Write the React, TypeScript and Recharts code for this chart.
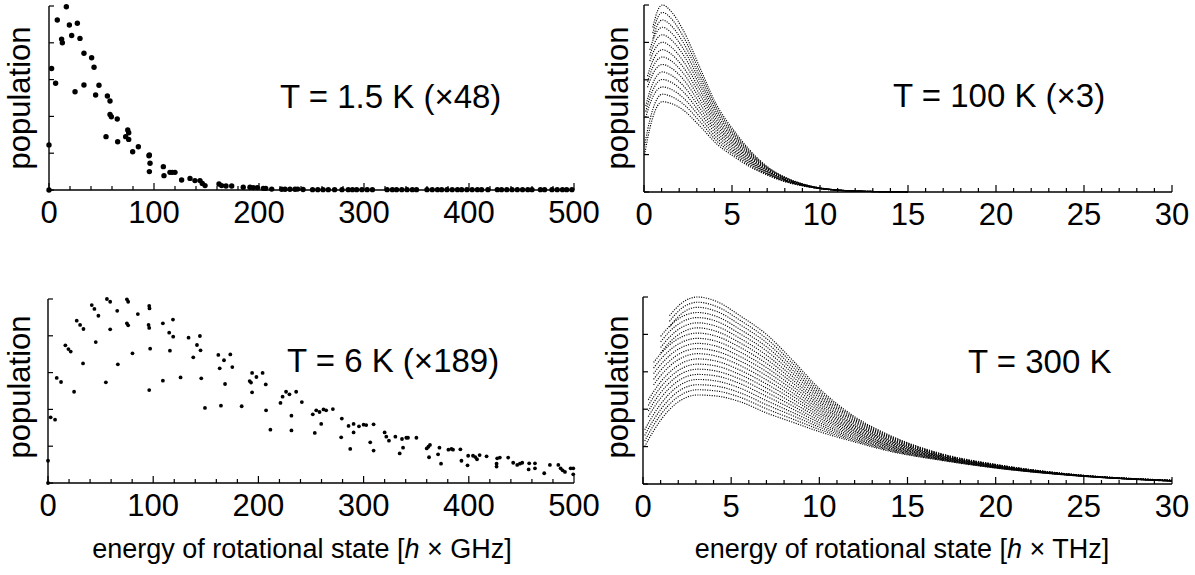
import React from 'react';
import { ScatterChart, Scatter, LineChart, Line, XAxis, YAxis } from 'recharts';

const FONT = "'Liberation Sans', Arial, sans-serif";

// ---- axis ticks ----
const ghzTicks = [0, 20, 40, 60, 80, 100, 120, 140, 160, 180, 200, 220, 240, 260, 280, 300, 320, 340, 360, 380, 400, 420, 440, 460, 480, 500];
const ghzLabels = [0, 100, 200, 300, 400, 500];
const thzTicks = [0, 1, 2, 3, 4, 5, 6, 7, 8, 9, 10, 11, 12, 13, 14, 15, 16, 17, 18, 19, 20, 21, 22, 23, 24, 25, 26, 27, 28, 29, 30];
const thzLabels = [0, 5, 10, 15, 20, 25, 30];
const popTicks = [0, 0.2, 0.4, 0.6, 0.8, 1];

// ---- T = 1.5 K : [energy GHz, population] ----
const pop1p5K: [number, number][] = [
  [0, 0.245], [0, 0], [2.5, 0.66], [6.3, 0.58], [7.9, 0.924], [12, 0.82], [12.7, 0.8], [16.5, 0.996], [19.4, 0.897],
  [21.6, 0.84], [24.8, 0.534], [27, 0.906], [29.5, 0.824], [33.3, 0.743], [33.3, 0.571], [40.6, 0.719], [42.9, 0.667],
  [44.4, 0.516], [47.6, 0.569], [54.3, 0.29], [55.6, 0.511], [58.1, 0.484], [58.1, 0.411], [59.4, 0.398], [65, 0.386],
  [65.4, 0.262], [75, 0.326], [75.9, 0.311], [73, 0.29], [75.9, 0.275], [79.7, 0.208], [85.1, 0.235], [95.2, 0.186],
  [95.6, 0.19], [96.2, 0.145], [95.6, 0.1], [108.9, 0.127], [109.5, 0.078], [115.2, 0.096], [117.4, 0.096], [120, 0.096],
  [126.3, 0.054], [134.3, 0.063], [139, 0.051], [143.8, 0.051], [146, 0.036], [148.6, 0.024], [161.9, 0.033],
  [164.4, 0.024], [168.6, 0.022], [174, 0.022], [185, 0.015], [191.4, 0.015], [194.6, 0.013], [198.4, 0.013],
  [204.1, 0.009], [206.4, 0.009], [212.1, 0.005], [221.6, 0.004], [224.8, 0.004], [229.5, 0.004], [234.3, 0.004],
  [236.8, 0.005], [242, 0.003], [251, 0.002], [256, 0.002], [261, 0.002], [266, 0.002], [272, 0.002], [279, 0.002],
  [285, 0.002], [289, 0.002], [293, 0.002], [298, 0.002], [303, 0.002], [308, 0.002], [322, 0.002], [327, 0.002],
  [331, 0.002], [336, 0.002], [341, 0.002], [346, 0.002], [350, 0.002], [360, 0.002], [365, 0.002], [370, 0.002],
  [374, 0.002], [379, 0.002], [384, 0.002], [389, 0.002], [393, 0.002], [398, 0.002], [403, 0.002], [408, 0.002],
  [412, 0.002], [418, 0.002], [427, 0.002], [431, 0.002], [436, 0.002], [441, 0.002], [446, 0.002], [451, 0.002],
  [456, 0.002], [460, 0.002], [468, 0.002], [472, 0.002], [479, 0.002], [484, 0.002], [489, 0.002], [493, 0.002],
  [498, 0.002],
];

// ---- T = 6 K : [energy GHz, population] ----
const pop6K: [number, number][] = [
  [0, 0.121], [0, 0], [2.5, 0.357], [6.7, 0.344], [8.3, 0.571], [12.4, 0.549], [16.5, 0.748], [19.4, 0.728], [21.6, 0.714],
  [24.8, 0.496], [27.3, 0.882], [30.5, 0.859], [33.7, 0.837], [33.3, 0.65], [41.6, 0.967], [44.1, 0.946], [47.9, 0.909],
  [45.4, 0.766], [55, 0.547], [56, 1.0], [59.1, 0.985], [59.1, 0.835], [65.8, 0.936], [66.4, 0.645], [75, 0.998],
  [76.2, 0.985], [75, 0.868], [76.2, 0.857], [80.3, 0.705], [85.4, 0.918], [96.2, 0.962], [96.5, 0.949], [95.6, 0.859],
  [96.2, 0.843], [97.1, 0.73], [96.2, 0.505], [109.2, 0.868], [109.2, 0.556], [115.2, 0.817], [115.9, 0.719],
  [118.8, 0.888], [119, 0.795], [126, 0.574], [133.6, 0.79], [138.1, 0.683], [141.6, 0.75], [144.4, 0.799], [145, 0.721],
  [145.7, 0.569], [149.2, 0.408], [161.9, 0.696], [163.2, 0.623], [164.4, 0.42], [167.3, 0.667], [168.3, 0.538],
  [173.3, 0.699], [175.2, 0.63], [184.1, 0.417], [191.7, 0.554], [193, 0.546], [194, 0.598], [194, 0.493], [198.1, 0.576],
  [204, 0.598], [207, 0.536], [207.3, 0.395], [211.4, 0.29], [221, 0.435], [223, 0.469], [226.3, 0.496], [229.5, 0.482],
  [231.4, 0.366], [231.4, 0.286], [235.9, 0.496], [241.3, 0.44], [251.7, 0.373], [255, 0.395], [258.1, 0.386],
  [261.9, 0.4], [264.4, 0.395], [270.8, 0.402], [253.6, 0.272], [259.7, 0.321], [279.3, 0.35], [278.7, 0.248],
  [285.7, 0.31], [287.3, 0.185], [290.5, 0.321], [290.5, 0.275], [295.6, 0.308], [300, 0.317], [302.5, 0.315],
  [309.5, 0.319], [306.3, 0.221], [309.5, 0.176], [320, 0.275], [321.6, 0.252], [324.1, 0.23], [330.2, 0.252],
  [334.3, 0.161], [336.5, 0.239], [337.5, 0.192], [340.6, 0.246], [342.2, 0.246], [350.2, 0.246], [360, 0.188],
  [361.6, 0.197], [363.1, 0.207], [362.2, 0.14], [370.8, 0.156], [372.1, 0.192], [373.6, 0.105], [380.6, 0.181],
  [383.5, 0.185], [385, 0.181], [392, 0.183], [393, 0.121], [399.4, 0.148], [398.8, 0.096], [404, 0.148], [406.2, 0.141],
  [407.8, 0.129], [410.3, 0.152], [416.9, 0.145], [426.4, 0.105], [426.4, 0.089], [427, 0.134], [429.5, 0.138],
  [437.4, 0.138], [442.2, 0.11], [446, 0.098], [448.6, 0.105], [450.8, 0.11], [457.4, 0.107], [456.9, 0.074],
  [462.9, 0.107], [462.9, 0.08], [471.7, 0.053], [477.1, 0.098], [485.1, 0.098], [487.3, 0.08], [489.2, 0.069],
  [491.4, 0.06], [496.8, 0.08], [499.3, 0.08], [499.3, 0.047],
];

// ---- T = 100 K : energy grid (THz) and population per dotted branch ----
const energy100K = [0.04, 0.1, 0.2, 0.33, 0.5, 0.75, 1.05, 1.5, 2.2, 3.2, 4.1, 5.1, 6, 7, 8, 9, 10, 11, 12.5, 15];
const N = null;
const branches100K: (number | null)[][] = [
  [N, N, N, N, .88, .964, 1.0, .970, .870, .660, .470, .330, .225, .136, .080, .044, .022, .011, .004, .001],
  [N, N, N, N, .85, .927, .960, .932, .837, .636, .454, .319, .218, .132, .078, .043, .022, .011, .004, .001],
  [N, N, N, N, .82, .890, .920, .894, .804, .612, .438, .308, .211, .129, .076, .042, .021, .011, .004, .001],
  [N, N, N, .76, .810, .860, .881, .856, .771, .588, .422, .298, .204, .125, .074, .041, .021, .011, .004, .001],
  [N, N, N, .73, .776, .822, .841, .818, .738, .565, .405, .287, .198, .122, .072, .041, .020, .010, .004, .001],
  [N, N, N, .70, .742, .783, .801, .779, .704, .541, .389, .276, .191, .118, .070, .040, .020, .010, .004, .001],
  [N, N, .62, .660, .702, .743, .761, .741, .671, .517, .373, .265, .184, .115, .068, .039, .020, .010, .004, .001],
  [N, N, .59, .627, .667, .706, .722, .704, .639, .493, .357, .255, .177, .111, .067, .038, .019, .010, .003, .001],
  [N, N, .56, .594, .631, .667, .682, .666, .606, .469, .341, .244, .170, .108, .065, .037, .019, .010, .003, .001],
  [N, .46, .496, .537, .581, .624, .642, .627, .572, .445, .325, .233, .163, .104, .063, .036, .019, .010, .003, .001],
  [N, .43, .464, .503, .544, .585, .602, .589, .539, .422, .309, .222, .157, .101, .061, .036, .019, .009, .003, .001],
  [N, .40, .432, .469, .508, .546, .562, .551, .506, .398, .292, .212, .150, .097, .059, .035, .018, .009, .003, .001],
  [.25, .281, .330, .384, .442, .499, .523, .513, .473, .374, .276, .201, .143, .094, .057, .034, .018, .009, .003, .001],
  [.20, .233, .283, .339, .399, .458, .483, .475, .440, .350, .260, .190, .136, .090, .055, .033, .018, .009, .003, .001],
];

// ---- T = 300 K : energy grid (THz) and population per dotted branch ----
const energy300K = [0.1, 0.3, 0.6, 1.0, 1.5, 2.2, 3.1, 4.2, 5.5, 7, 8.5, 10, 12, 14, 17, 20, 24, 30];
const branches300K: (number | null)[][] = [
  [N, N, N, N, .90, .968, 1.0, .975, .900, .800, .660, .510, .360, .260, .160, .105, .055, .020],
  [N, N, N, N, .87, .940, .972, .948, .876, .778, .643, .498, .353, .256, .158, .104, .055, .020],
  [N, N, N, N, .84, .912, .945, .922, .852, .756, .625, .486, .346, .251, .156, .103, .054, .019],
  [N, N, N, .79, .843, .894, .917, .895, .827, .734, .608, .474, .339, .247, .154, .102, .054, .019],
  [N, N, N, .76, .815, .866, .890, .869, .803, .712, .591, .462, .332, .242, .153, .101, .054, .019],
  [N, N, N, .73, .785, .838, .862, .842, .779, .689, .573, .449, .324, .238, .151, .100, .053, .019],
  [N, N, N, .70, .757, .810, .835, .815, .755, .667, .556, .437, .317, .233, .149, .099, .053, .018],
  [N, N, .65, .696, .743, .787, .807, .789, .731, .645, .539, .425, .310, .229, .147, .098, .052, .018],
  [N, N, .62, .667, .714, .758, .779, .762, .706, .623, .521, .413, .303, .224, .145, .097, .052, .018],
  [N, N, .59, .638, .686, .731, .752, .736, .682, .601, .504, .401, .296, .220, .143, .096, .052, .018],
  [N, N, .56, .608, .657, .703, .724, .709, .658, .579, .486, .389, .289, .215, .142, .094, .051, .017],
  [N, N, .53, .579, .629, .675, .697, .683, .634, .557, .469, .377, .282, .211, .140, .093, .051, .017],
  [N, .45, .494, .546, .597, .646, .669, .656, .609, .535, .452, .365, .275, .206, .138, .092, .051, .017],
  [N, .42, .465, .517, .569, .618, .641, .630, .585, .513, .434, .353, .268, .202, .136, .091, .050, .017],
  [N, .39, .435, .488, .541, .591, .614, .603, .561, .491, .417, .340, .261, .197, .134, .090, .050, .016],
  [N, .36, .406, .459, .512, .563, .586, .577, .537, .469, .400, .328, .253, .193, .132, .089, .049, .016],
  [.29, .325, .372, .427, .483, .535, .559, .550, .513, .446, .382, .316, .246, .188, .131, .088, .049, .016],
  [.26, .295, .343, .398, .454, .507, .531, .523, .488, .424, .365, .304, .239, .184, .129, .087, .049, .016],
  [.23, .265, .314, .370, .426, .479, .504, .497, .464, .402, .347, .292, .232, .179, .127, .086, .048, .015],
  [.20, .236, .284, .341, .398, .451, .476, .470, .440, .380, .330, .280, .225, .175, .125, .085, .048, .015],
];

const buildRows = (grid: number[], branches: (number | null)[][]) =>
  grid.map((x, k) => {
    const row: Record<string, number | null> = { x };
    branches.forEach((b, i) => {
      row['b' + i] = b[k];
    });
    return row;
  });

const rows100K = buildRows(energy100K, branches100K);
const rows300K = buildRows(energy300K, branches300K);
const scatter1p5K = pop1p5K.map(([x, y]) => ({ x, y }));
const scatter6K = pop6K.map(([x, y]) => ({ x, y }));

// ---- custom ticks (drawn inward, like the original) ----
const makeXTick = (labels: number[]) => (props: any) => {
  const { x, y, payload } = props;
  const v = payload.value;
  const major = labels.includes(v);
  return (
    <g>
      <line x1={x} x2={x} y1={y} y2={y - (major ? 7 : 4)} stroke="#000" strokeWidth={1.2} />
      {major && (
        <text x={x} y={y + 33} textAnchor="middle" fontFamily={FONT} fontSize={31} fill="#000">
          {v}
        </text>
      )}
    </g>
  );
};

const yTick = (props: any) => {
  const { x, y } = props;
  return <line x1={x} x2={x + 5} y1={y} y2={y} stroke="#000" strokeWidth={1.2} />;
};

const axisLineStyle = { stroke: '#000', strokeWidth: 1.4 };
const dotShape = (r: number) => (p: any) => <circle cx={p.cx} cy={p.cy} r={r} fill="#000" />;

const AX_H = 30;
const AX_W = 30;

const ScatterPanel = ({ data, left, top, width, height, margin, r }: any) => (
  <div style={{ position: 'absolute', left, top, width, height }}>
    <ScatterChart width={width} height={height} margin={margin}>
      <XAxis
        type="number"
        dataKey="x"
        domain={[0, 500]}
        ticks={ghzTicks}
        interval={0}
        tickSize={0}
        tickMargin={0}
        height={AX_H}
        tickLine={false}
        axisLine={axisLineStyle}
        tick={makeXTick(ghzLabels)}
      />
      <YAxis
        type="number"
        dataKey="y"
        domain={[0, 1]}
        ticks={popTicks}
        interval={0}
        tickSize={0}
        tickMargin={0}
        width={AX_W}
        tickLine={false}
        axisLine={axisLineStyle}
        tick={yTick}
      />
      <Scatter data={data} fill="#000" shape={dotShape(r)} isAnimationActive={false} />
    </ScatterChart>
  </div>
);

const DensePanel = ({ rows, count, left, top, width, height, margin }: any) => (
  <div style={{ position: 'absolute', left, top, width, height }}>
    <LineChart width={width} height={height} margin={margin} data={rows}>
      <XAxis
        type="number"
        dataKey="x"
        domain={[0, 30]}
        ticks={thzTicks}
        interval={0}
        tickSize={0}
        tickMargin={0}
        height={AX_H}
        tickLine={false}
        axisLine={axisLineStyle}
        tick={makeXTick(thzLabels)}
      />
      <YAxis
        type="number"
        domain={[0, 1]}
        ticks={popTicks}
        interval={0}
        tickSize={0}
        tickMargin={0}
        width={AX_W}
        tickLine={false}
        axisLine={axisLineStyle}
        tick={yTick}
      />
      {Array.from({ length: count }, (_, i) => (
        <Line
          key={i}
          dataKey={'b' + i}
          type="monotone"
          stroke="#000"
          strokeWidth={1.15}
          strokeDasharray="1.1 1.3"
          dot={false}
          activeDot={false}
          connectNulls={false}
          isAnimationActive={false}
        />
      ))}
    </LineChart>
  </div>
);

export default function App() {
  return (
    <div style={{ position: 'absolute', left: 0, top: 0, width: 1195, height: 575, background: '#fff', overflow: 'hidden' }}>
      <ScatterPanel
        data={scatter1p5K}
        left={0}
        top={0}
        width={625}
        height={287}
        r={2.7}
        margin={{ top: 6, left: 49 - AX_W, right: 51, bottom: 97 - AX_H }}
      />
      <ScatterPanel
        data={scatter6K}
        left={0}
        top={287}
        width={625}
        height={288}
        r={1.9}
        margin={{ top: 12, left: 48 - AX_W, right: 51, bottom: 92 - AX_H }}
      />
      <DensePanel
        rows={rows100K}
        count={branches100K.length}
        left={598}
        top={0}
        width={597}
        height={287}
        margin={{ top: 5, left: 46 - AX_W, right: 23, bottom: 95 - AX_H }}
      />
      <DensePanel
        rows={rows300K}
        count={branches300K.length}
        left={598}
        top={287}
        width={597}
        height={288}
        margin={{ top: 10, left: 45 - AX_W, right: 23, bottom: 91 - AX_H }}
      />
      <svg
        width={1195}
        height={575}
        style={{ position: 'absolute', left: 0, top: 0, pointerEvents: 'none' }}
        fontFamily={FONT}
        fill="#000"
      >
        <text x={30} y={98} fontSize={31} textAnchor="middle" transform="rotate(-90 30 98)">population</text>
        <text x={30} y={387} fontSize={31} textAnchor="middle" transform="rotate(-90 30 387)">population</text>
        <text x={628} y={98} fontSize={31} textAnchor="middle" transform="rotate(-90 628 98)">population</text>
        <text x={628} y={387} fontSize={31} textAnchor="middle" transform="rotate(-90 628 387)">population</text>

        <text x={280} y={108} fontSize={33}>T = 1.5 K  (×48)</text>
        <text x={893} y={107} fontSize={33}>T = 100 K  (×3)</text>
        <text x={287} y={372} fontSize={33}>T = 6 K  (×189)</text>
        <text x={968} y={373} fontSize={33}>T = 300 K</text>

        <text x={302} y={558} fontSize={27} textAnchor="middle">
          energy of rotational state [<tspan fontStyle="italic">h</tspan> × GHz]
        </text>
        <text x={902} y={558} fontSize={27} textAnchor="middle">
          energy of rotational state [<tspan fontStyle="italic">h</tspan> × THz]
        </text>
      </svg>
    </div>
  );
}
